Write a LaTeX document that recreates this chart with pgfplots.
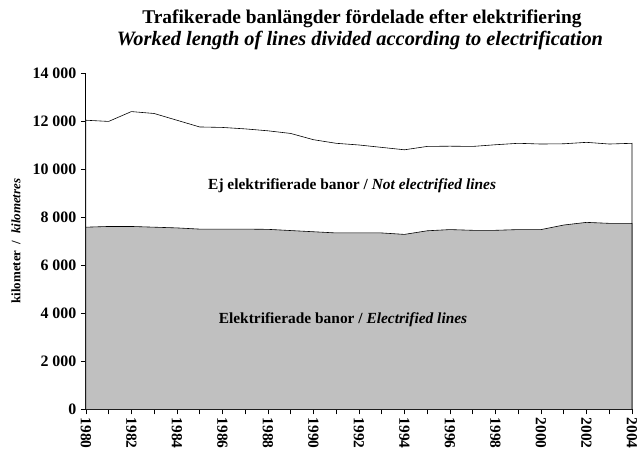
\documentclass[border=0pt]{standalone}
\usepackage{pgfplots}
\pgfplotsset{compat=1.18}
\usepackage{fontspec}
\setmainfont{Liberation Serif}
\definecolor{elgray}{RGB}{192,192,192}

\begin{document}
\begin{tikzpicture}
\begin{axis}[
  name=ax,
  width=547bp, height=337bp, scale only axis,
  xmin=1980, xmax=2004, ymin=0, ymax=14000,
  axis x line=bottom, axis y line=left, axis line style={-, black, line width=0.8pt},
  xtick={1980,1982,...,2004},
  xticklabels={1980,1982,1984,1986,1988,1990,1992,1994,1996,1998,2000,2002,2004},
  minor xtick={1981,1983,...,2003},
  ytick={0,2000,...,14000},
  yticklabels={0,2 000,4 000,6 000,8 000,10 000,12 000,14 000},
  scaled y ticks=false,
  tick align=outside, tick style={black, line width=0.6pt},
  major tick length=5bp, minor tick length=5bp,
  x tick label style={rotate=-90, anchor=west, font=\bfseries\fontsize{15.5}{15.5}\selectfont},
  y tick label style={font=\bfseries\fontsize{16}{16}\selectfont, xshift=-1bp},
  ylabel={kilometer\ \ /\ \ \textit{kilometres}},
  ylabel style={font=\bfseries\fontsize{13}{13}\selectfont, at={(axis description cs:-0.128,0.5)}, anchor=center},
  clip=false,
]

% totalt (ej elektrifierade + elektrifierade)
\addplot[draw=black, line width=0.6pt, fill=white] coordinates {
  (1980,12030) (1981,11980) (1982,12390) (1983,12310) (1984,12030)
  (1985,11750) (1986,11730) (1987,11670) (1988,11590) (1989,11480)
  (1990,11220) (1991,11070) (1992,11000) (1993,10900) (1994,10800)
  (1995,10940) (1996,10950) (1997,10940) (1998,11010) (1999,11070)
  (2000,11040) (2001,11050) (2002,11110) (2003,11040) (2004,11070)
} \closedcycle;

% elektrifierade
\addplot[draw=black, line width=0.6pt, fill=elgray] coordinates {
  (1980,7580) (1981,7610) (1982,7610) (1983,7580) (1984,7550)
  (1985,7500) (1986,7500) (1987,7500) (1988,7490) (1989,7440)
  (1990,7390) (1991,7340) (1992,7340) (1993,7340) (1994,7280)
  (1995,7430) (1996,7480) (1997,7450) (1998,7450) (1999,7480)
  (2000,7480) (2001,7670) (2002,7780) (2003,7740) (2004,7740)
} \closedcycle;

\node[font=\bfseries\fontsize{15.5}{15.5}\selectfont] at (axis cs:1991.7,9290)
  {Ej elektrifierade banor / \textit{Not electrified lines}};
\node[font=\bfseries\fontsize{15.5}{15.5}\selectfont] at (axis cs:1991.3,3730)
  {Elektrifierade banor / \textit{Electrified lines}};

\node[font=\bfseries\fontsize{19.5}{19.5}\selectfont] at ([xshift=3bp,yshift=54bp]rel axis cs:0.5,1)
  {Trafikerade banlängder fördelade efter elektrifiering};
\node[font=\bfseries\itshape\fontsize{20.5}{20.5}\selectfont] at ([xshift=1bp,yshift=32bp]rel axis cs:0.5,1)
  {Worked length of lines divided according to electrification};
\end{axis}
\pgfresetboundingbox
\path ([xshift=-86bp,yshift=-47bp]ax.south west) rectangle ([xshift=7bp,yshift=73bp]ax.north east);
\end{tikzpicture}
\end{document}
